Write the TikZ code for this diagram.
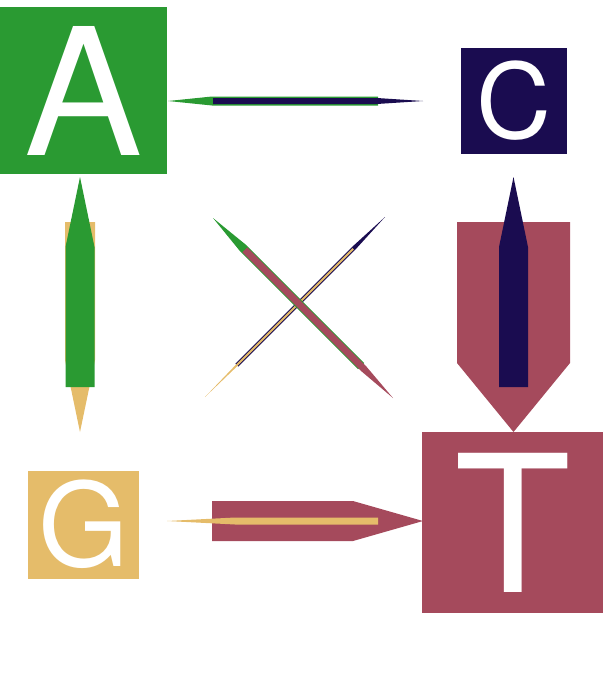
\documentclass[tikz,border=0pt]{standalone}
\usepackage{fontspec}
\setmainfont{TeX Gyre Heros}
\usetikzlibrary{calc}
\definecolor{baseA}{HTML}{2A9A32}
\definecolor{baseC}{HTML}{1A0C50}
\definecolor{baseG}{HTML}{E5BC6A}
\definecolor{baseT}{HTML}{A54A5C}
\tikzset{
    base/.style={
        inner sep=0pt,
        text=white
    }
}
% tapered rate arrow: colour, from, to, half width, head length
\newcommand{\ratearrow}[5]{%
    \coordinate (tail) at ($(#2)!45pt!(#3)$);
    \coordinate (neck) at ($(#3)!#5!(#2)$);
    \fill[#1]
        ($(tail)!#4!90:(#3)$)
        -- ($(neck)!#4!-90:(#2)$)
        -- (#3)
        -- ($(neck)!#4!90:(#2)$)
        -- ($(tail)!#4!-90:(#3)$)
        -- cycle;
}

\begin{document}
\begin{tikzpicture}[x=1pt,y=-1pt]

    \useasboundingbox (0,0) rectangle (604,683);

    % Bases
    \node[base,fill=baseA,minimum size=167pt,
        font=\fontsize{177}{177}\selectfont]
        (A) at (83.5,90.5) {A};

    \node[base,fill=baseC,minimum size=106pt,
        font=\fontsize{104}{104}\selectfont]
        (C) at (514,100.5) {C};

    \node[base,fill=baseG,minimum width=111pt,minimum height=108pt,
        font=\fontsize{116}{116}\selectfont]
        (G) at (83.5,524.5) {G};

    \node[base,fill=baseT,minimum size=181pt,
        font=\fontsize{191}{191}\selectfont]
        (T) at (512.5,522.5) {T};

    % Arrow ends
    \coordinate (AC-a) at (168,101);
    \coordinate (AC-c) at (423,101);
    \coordinate (AG-a) at (80,177);
    \coordinate (AG-g) at (80,432);
    \coordinate (CT-c) at (513.5,177);
    \coordinate (CT-t) at (513.5,432);
    \coordinate (GT-g) at (167,521);
    \coordinate (GT-t) at (423,521);
    \coordinate (AT-a) at (213,218);
    \coordinate (AT-t) at (393,398);
    \coordinate (CG-c) at (385,217);
    \coordinate (CG-g) at (205,397);

    % A -- C
    \ratearrow{baseA}{AC-c}{AC-a}{4.5pt}{44pt}
    \ratearrow{baseC}{AC-a}{AC-c}{3pt}{46pt}

    % A -- G
    \ratearrow{baseG}{AG-a}{AG-g}{15pt}{72pt}
    \ratearrow{baseA}{AG-g}{AG-a}{14.5pt}{70pt}

    % C -- T
    \ratearrow{baseT}{CT-c}{CT-t}{56.5pt}{69pt}
    \ratearrow{baseC}{CT-t}{CT-c}{14.5pt}{70pt}

    % G -- T
    \ratearrow{baseT}{GT-g}{GT-t}{20pt}{70pt}
    \ratearrow{baseG}{GT-t}{GT-g}{3.5pt}{68pt}

    % C -- G
    \ratearrow{baseC}{CG-g}{CG-c}{2.1pt}{44pt}
    \ratearrow{baseG}{CG-c}{CG-g}{1pt}{45pt}

    % A -- T
    \ratearrow{baseA}{AT-t}{AT-a}{4.3pt}{42pt}
    \ratearrow{baseT}{AT-a}{AT-t}{3.5pt}{42pt}

\end{tikzpicture}
\end{document}
